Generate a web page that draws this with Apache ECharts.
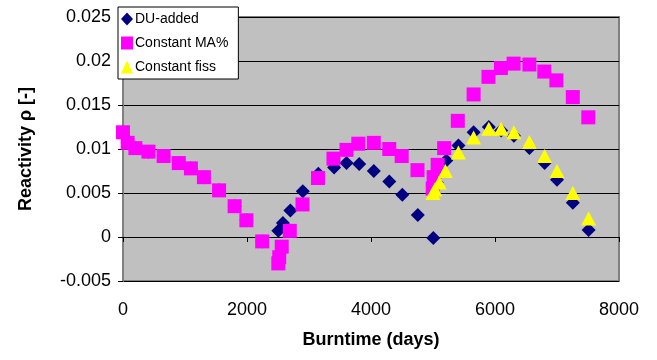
<!DOCTYPE html>
<html>
<head>
<meta charset="utf-8">
<script src="https://cdn.jsdelivr.net/npm/echarts@6/dist/echarts.min.js"></script>
<style>
html,body{margin:0;padding:0;background:#fff;}
#chart{width:657px;height:360px;}
</style>
</head>
<body>
<div id="chart"></div>
<script>
// Burntime (days) and reactivity values per series
var duDays = [0, 75, 200, 410, 655, 900, 1095, 1305, 1550, 1800, 1990, 2245, 2505, 2580, 2700, 2900, 3150, 3405, 3605, 3810, 4045, 4295, 4505, 4755, 5005, 5010, 5060, 5110, 5215, 5410, 5655, 5900, 6100, 6305, 6555, 6800, 7000, 7255, 7510];
var duVals = [0.0119, 0.0107, 0.0101, 0.0097, 0.0092, 0.0084, 0.0078, 0.0068, 0.0053, 0.0035, 0.0019, -0.0005, 0.0007, 0.0016, 0.0030, 0.0052, 0.0072, 0.0079, 0.0084, 0.0083, 0.0075, 0.0063, 0.0048, 0.0025, -0.0001, 0.0050, 0.0062, 0.0073, 0.0087, 0.0104, 0.0119, 0.0125, 0.0121, 0.0115, 0.0101, 0.0084, 0.0065, 0.0039, 0.0008];

var maDays = [0, 75, 200, 410, 655, 900, 1095, 1305, 1550, 1800, 1990, 2245, 2505, 2520, 2560, 2690, 2895, 3145, 3395, 3605, 3795, 4045, 4295, 4495, 4750, 4995, 5010, 5075, 5180, 5400, 5655, 5895, 6095, 6300, 6555, 6795, 6990, 7255, 7505];
var maVals = [0.0119, 0.0107, 0.0101, 0.0097, 0.0092, 0.0084, 0.0078, 0.0068, 0.0053, 0.0035, 0.0019, -0.0005, -0.0030, -0.0023, -0.0011, 0.0007, 0.0037, 0.0067, 0.0089, 0.0099, 0.0106, 0.0107, 0.0100, 0.0092, 0.0076, 0.0055, 0.0068, 0.0082, 0.0101, 0.0132, 0.0162, 0.0182, 0.0192, 0.0197, 0.0196, 0.0188, 0.0178, 0.0159, 0.0136];

var fissDays = [5000, 5030, 5100, 5200, 5410, 5655, 5900, 6100, 6305, 6555, 6800, 7000, 7255, 7510];
var fissVals = [0.0050, 0.0054, 0.0062, 0.0075, 0.0096, 0.0113, 0.0123, 0.0123, 0.0119, 0.0108, 0.0092, 0.0075, 0.0050, 0.0021];

var seriesNames = ['DU-added', 'Constant MA%', 'Constant fiss'];
var xTicks = {min: 0, max: 8000, step: 2000};
var yTicks = {min: -0.005, max: 0.025, step: 0.005};

function pairs(xs, ys) { return xs.map(function (x, i) { return [x, ys[i]]; }); }

var FONT = 'Liberation Sans, Arial, sans-serif';
var chart = echarts.init(document.getElementById('chart'), null, {renderer: 'canvas'});
chart.setOption({
  animation: false,
  backgroundColor: '#ffffff',
  grid: {left: 123, right: 38, top: 17, bottom: 79, show: true, backgroundColor: '#c0c0c0', borderColor: '#808080', borderWidth: 2},
  legend: {
    orient: 'vertical', left: 118, top: 7,
    backgroundColor: '#ffffff', borderColor: '#000000', borderWidth: 1,
    padding: [5, 10, 5, 3], itemGap: 10, itemWidth: 12, itemHeight: 13,
    textStyle: {fontFamily: FONT, fontSize: 14, color: '#000', padding: [0, 0, 0, -3]},
    data: seriesNames
  },
  xAxis: [{
    type: 'value', min: xTicks.min, max: xTicks.max, interval: xTicks.step,
    axisLine: {show: true, onZero: true, lineStyle: {color: '#000', width: 1}},
    axisTick: {show: true, inside: false, length: 5, lineStyle: {color: '#000'}},
    axisLabel: {show: false}, splitLine: {show: false}
  }, {
    type: 'value', min: xTicks.min, max: xTicks.max, interval: xTicks.step, position: 'bottom',
    axisLine: {show: false, onZero: false}, axisTick: {show: false}, splitLine: {show: false},
    axisLabel: {show: true, margin: 20, fontFamily: FONT, fontSize: 18, color: '#000',
      formatter: function (v) { return String(v); }},
    name: 'Burntime (days)', nameLocation: 'middle', nameGap: 50,
    nameTextStyle: {fontFamily: FONT, fontSize: 18, fontWeight: 'bold', color: '#000'}
  }],
  yAxis: {
    type: 'value', min: yTicks.min, max: yTicks.max, interval: yTicks.step,
    axisLine: {show: true, onZero: false, lineStyle: {color: '#808080', width: 2}},
    axisTick: {show: true, inside: false, length: 5, lineStyle: {color: '#000'}},
    axisLabel: {margin: 12, fontFamily: FONT, fontSize: 18, color: '#000',
      formatter: function (v) { return String(+v.toFixed(3)); }},
    splitLine: {show: true, lineStyle: {color: '#000', width: 1}},
    name: 'Reactivity ρ [-]', nameLocation: 'middle', nameGap: 88,
    nameTextStyle: {fontFamily: FONT, fontSize: 18, fontWeight: 'bold', color: '#000'}
  },
  series: [
    {name: seriesNames[0], type: 'scatter', symbol: 'diamond', symbolSize: 14, itemStyle: {color: '#000080', opacity: 1}, data: pairs(duDays, duVals)},
    {name: seriesNames[1], type: 'scatter', symbol: 'rect', symbolSize: 14, itemStyle: {color: '#ff00ff', opacity: 1}, data: pairs(maDays, maVals)},
    {name: seriesNames[2], type: 'scatter', symbol: 'triangle', symbolSize: [15, 14], itemStyle: {color: '#ffff00', opacity: 1}, data: pairs(fissDays, fissVals)}
  ]
});
</script>
</body>
</html>
